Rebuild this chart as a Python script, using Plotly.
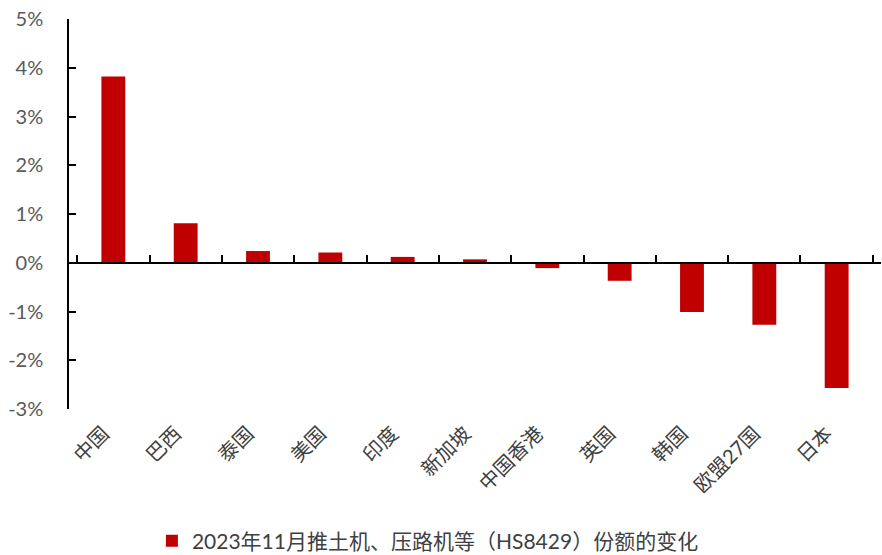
import plotly.graph_objects as go

categories = ["中国", "巴西", "泰国", "美国", "印度", "新加坡", "中国香港", "英国", "韩国", "欧盟27国", "日本"]
share_change = [3.82, 0.81, 0.24, 0.21, 0.12, 0.07, -0.11, -0.37, -1.01, -1.27, -2.57]
series_name = "2023年11月推土机、压路机等（HS8429）份额的变化"
y_ticks = [-3, -2, -1, 0, 1, 2, 3, 4, 5]
y_ticktext = [f"{v}%" for v in y_ticks]

font_family = "Lato, 'Noto Sans CJK SC', sans-serif"

fig = go.Figure()
fig.add_trace(go.Bar(
    x=categories, y=share_change, name=series_name,
    marker=dict(color="#C00000", line=dict(width=0)),
    showlegend=True,
))
# invisible trace to carry the zero-line axis with boundary ticks
fig.add_trace(go.Scatter(
    x=categories, y=share_change, xaxis="x2", mode="markers",
    marker=dict(opacity=0), showlegend=False, hoverinfo="skip",
))

fig.update_layout(
    width=882, height=555,
    margin=dict(l=69, r=1, t=19, b=146, autoexpand=False),
    paper_bgcolor="white", plot_bgcolor="white",
    bargap=0.67,
    font=dict(family=font_family, size=20, color="#595959"),
    xaxis=dict(
        type="category", showline=False, ticks="", showgrid=False,
        tickangle=-45, tickfont=dict(size=20, color="#404040"),
        zeroline=False, automargin=False,
        ticklabelstandoff=8, ticklabelshift=-10,
    ),
    xaxis2=dict(
        type="category", overlaying="x", matches="x", anchor="free", position=0.375,
        showline=True, linecolor="black", linewidth=1.5,
        ticks="inside", ticklen=7, tickcolor="black", tickwidth=1.5,
        tickson="boundaries", showticklabels=False, showgrid=False,
    ),
    yaxis=dict(
        range=[-3, 5], tickvals=y_ticks, ticktext=y_ticktext,
        showline=True, linecolor="black", linewidth=1.5,
        ticks="inside", ticklen=7, tickcolor="black", tickwidth=1.5,
        showgrid=False, zeroline=False, automargin=False,
        ticklabelstandoff=20,
        tickfont=dict(size=20, color="#595959"),
    ),
    legend=dict(
        orientation="h", x=0.442, xanchor="center",
        yref="container", y=0.025, yanchor="middle",
        font=dict(size=21, color="#404040"),
    ),
)

fig.write_html("out.html")
